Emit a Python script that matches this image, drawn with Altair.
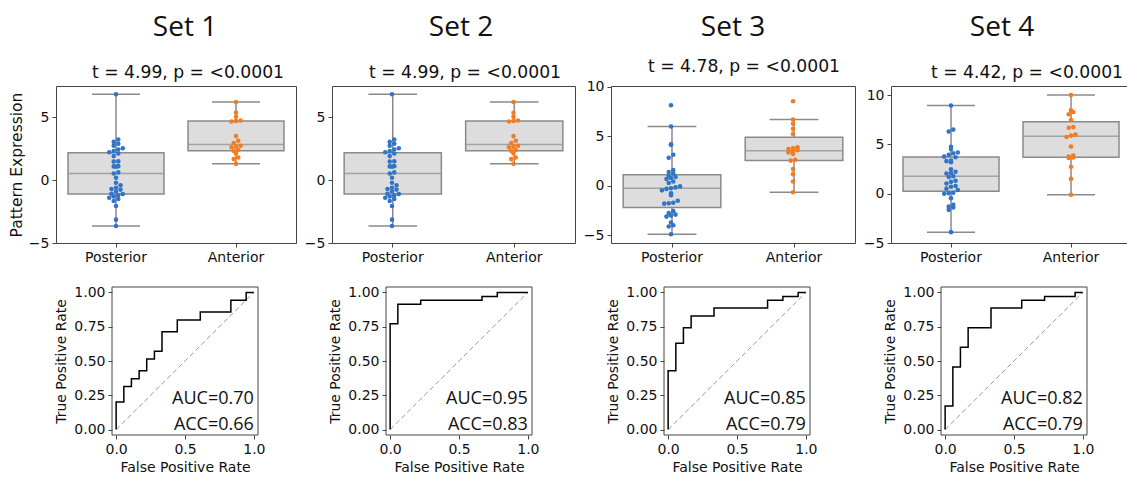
import altair as alt
import pandas as pd

# ---------------- data ----------------
cats = ["Posterior", "Anterior"]
set_names = ["Set 1", "Set 2", "Set 3", "Set 4"]
t_labels = ["t = 4.99, p = <0.0001", "t = 4.99, p = <0.0001",
            "t = 4.78, p = <0.0001", "t = 4.42, p = <0.0001"]

post_1 = [-3.64, -3.14, -2.05, -1.65, -1.5, -1.4, -1.3, -1.2, -1.1, -1.08,
          -0.9, -0.75, -0.7, -0.6, -0.4, -0.2, 0.2, 0.53, 0.62, 1.08, 1.1,
          1.12, 1.48, 1.5, 1.92, 2.13, 2.23, 2.32, 2.45, 2.55, 2.74, 2.9,
          3.05, 3.24, 6.84]
ant_1 = [1.3, 1.68, 1.81, 2.13, 2.32, 2.4, 2.62, 2.66, 2.74, 2.96, 3.14,
         3.51, 4.68, 4.72, 4.75, 5.05, 5.37, 6.22]

post_2 = [-3.64, -3.14, -2.05, -1.65, -1.5, -1.4, -1.3, -1.2, -1.1, -1.08,
          -0.9, -0.75, -0.7, -0.6, -0.4, -0.2, 0.2, 0.53, 0.62, 1.08, 1.1,
          1.12, 1.48, 1.5, 1.92, 2.13, 2.23, 2.32, 2.45, 2.55, 2.74, 2.9,
          3.05, 3.24, 6.84]
ant_2 = [1.3, 1.68, 1.81, 2.13, 2.32, 2.4, 2.62, 2.66, 2.74, 2.96, 3.14,
         3.51, 4.68, 4.72, 4.75, 5.05, 5.37, 6.22]

post_3 = [-4.89, -4.1, -3.98, -3.7, -3.1, -3.0, -2.9, -2.75, -2.55, -1.79,
          -1.75, -1.7, -1.5, -0.95, -0.75, -0.45, -0.3, -0.24, -0.15, -0.05,
          0.3, 0.45, 0.7, 0.8, 0.9, 1.0, 1.24, 1.4, 1.6, 2.85, 3.15, 4.15,
          4.2, 6.0, 8.15]
ant_3 = [-0.64, 0.44, 1.19, 1.7, 2.56, 2.64, 3.22, 3.39, 3.5, 3.62, 3.73,
         3.8, 3.9, 5.26, 5.77, 6.28, 6.72, 8.55]

post_4 = [-3.9, -1.64, -1.4, -1.3, -1.13, -0.45, 0.0, 0.05, 0.1, 0.38, 0.51,
          0.7, 0.78, 1.03, 1.2, 1.3, 1.7, 1.78, 2.05, 2.1, 2.23, 2.47, 3.2,
          3.3, 3.35, 3.7, 3.76, 3.94, 4.1, 4.18, 4.52, 4.76, 6.3, 6.5, 8.94]
ant_4 = [-0.1, 1.5, 2.74, 3.62, 3.68, 3.76, 3.87, 4.79, 5.75, 5.89, 5.99,
         6.68, 6.75, 7.47, 8.05, 8.29, 8.46, 10.0]

posteriors = [post_1, post_2, post_3, post_4]
anteriors = [ant_1, ant_2, ant_3, ant_4]

y_domains = [[-5, 7.5], [-5, 7.5], [-5.77, 10.1], [-5, 10.92]]
y_ticks = [[-5, 0, 5], [-5, 0, 5], [-5, 0, 5, 10], [-5, 0, 5, 10]]

roc_fpr_1 = [0, 0, 0.056, 0.111, 0.167, 0.222, 0.278, 0.333, 0.444, 0.611, 0.833, 0.944, 1.0]
roc_tpr_1 = [0, 0.2, 0.314, 0.371, 0.429, 0.514, 0.571, 0.714, 0.8, 0.857, 0.943, 1.0, 1.0]
roc_fpr_2 = [0, 0, 0.056, 0.222, 0.667, 0.778, 1.0]
roc_tpr_2 = [0, 0.771, 0.914, 0.943, 0.971, 1.0, 1.0]
roc_fpr_3 = [0, 0, 0.056, 0.111, 0.167, 0.333, 0.722, 0.833, 0.944, 1.0]
roc_tpr_3 = [0, 0.429, 0.629, 0.743, 0.829, 0.886, 0.943, 0.971, 1.0, 1.0]
roc_fpr_4 = [0, 0, 0.056, 0.111, 0.167, 0.333, 0.556, 0.722, 0.944, 1.0]
roc_tpr_4 = [0, 0.171, 0.457, 0.6, 0.743, 0.886, 0.943, 0.971, 1.0, 1.0]
roc_fprs = [roc_fpr_1, roc_fpr_2, roc_fpr_3, roc_fpr_4]
roc_tprs = [roc_tpr_1, roc_tpr_2, roc_tpr_3, roc_tpr_4]

auc_labels = ["AUC=0.70", "AUC=0.95", "AUC=0.85", "AUC=0.82"]
acc_labels = ["ACC=0.66", "ACC=0.83", "ACC=0.79", "ACC=0.79"]
diag_vals = [0, 1]

# ---------------- styling / layout ----------------
BLUE = "#3274c8"
ORANGE = "#f47b20"
BOX_FILL = "#dddddd"
BOX_LINE = "#8a8a8a"
TXT = "#111111"
FRAME = "#444444"

col_widths = [240, 243, 244, 240]
top_height = 157
set_dx = [9, 7.5, 0, -9]
sub_dx = [12, 11.5, 11, 16]
roc_size = 146
roc_h = 148
roc_left = [56, 54, 53, 50]
one = pd.DataFrame({"k": [0]})
RX = [-0.03, 1.03]
RY = [-0.04, 1.04]


def title_cell(i):
    return alt.Chart(one).mark_point(opacity=0).encode(
        x=alt.value(0), y=alt.value(0)
    ).properties(
        width=col_widths[i], height=1,
        view=alt.ViewBackground(stroke="transparent"),
        title=alt.TitleParams(text=set_names[i], anchor="middle", font="Open Sans",
                              fontSize=28, fontWeight="normal", color=TXT,
                              offset=-4, dx=set_dx[i]),
    )


def top_panel(i):
    post, ant = posteriors[i], anteriors[i]
    df = pd.DataFrame({"group": [cats[0]] * len(post) + [cats[1]] * len(ant),
                       "value": post + ant})
    w = col_widths[i]
    bw = w / 2
    lo, hi = y_domains[i]
    px_per_unit = top_height / (hi - lo)
    step = 4.6 / px_per_unit
    base = alt.Chart(df)
    x = alt.X("group:N", sort=cats,
              scale=alt.Scale(domain=cats, paddingInner=0, paddingOuter=0),
              axis=alt.Axis(title=None, labelAngle=0, labelPadding=3))
    y = alt.Y("value:Q", scale=alt.Scale(domain=y_domains[i], nice=False, zero=False),
              axis=alt.Axis(values=y_ticks[i], title="Pattern Expression" if i == 0 else None,
                            titlePadding=4, titleFontSize=15.5, labelPadding=3))
    box = base.mark_boxplot(
        size=0.8 * bw, extent=1.5, outliers=False,
        box={"fill": BOX_FILL, "stroke": BOX_LINE, "strokeWidth": 1.5},
        median={"color": BOX_LINE, "thickness": 1.5},
        rule={"color": BOX_LINE, "strokeWidth": 1.5},
        ticks={"color": BOX_LINE, "size": 0.4 * bw, "thickness": 1.5},
    ).encode(x=x, y=y)
    pts = base.transform_calculate(
        b=f"floor(datum.value / {step})"
    ).transform_window(
        rank="row_number()", groupby=["group", "b"], sort=[alt.SortField("value")]
    ).transform_joinaggregate(
        n="count()", groupby=["group", "b"]
    ).transform_calculate(
        off="(datum.rank - (datum.n + 1) / 2) * 4.6"
    ).mark_circle(size=21, opacity=1).encode(
        x=x,
        xOffset=alt.XOffset("off:Q", scale=alt.Scale(domain=[-bw / 2, bw / 2], range=[0, bw])),
        y=y,
        color=alt.Color("group:N", scale=alt.Scale(domain=cats, range=[BLUE, ORANGE]), legend=None),
    )
    return alt.layer(box, pts).properties(
        width=w, height=top_height,
        title=alt.TitleParams(
            text=t_labels[i], anchor="middle", font="DejaVu Sans", fontSize=17.2,
            fontWeight="normal", color=TXT, offset=5, dx=sub_dx[i]),
    )


def roc_panel(i):
    df = pd.DataFrame({"fpr": roc_fprs[i], "tpr": roc_tprs[i],
                       "i": list(range(len(roc_fprs[i])))})
    L = roc_left[i]
    xs = alt.Scale(domain=RX, range=[L, L + roc_size], nice=False, zero=False)
    ys = alt.Scale(domain=RY, nice=False, zero=False)
    xax = alt.Axis(values=[0, 0.5, 1], format=".1f", title="False Positive Rate",
                   labelPadding=3, titlePadding=4, labelOverlap=False)
    yax = alt.Axis(values=[0, 0.25, 0.5, 0.75, 1], format=".2f", title="True Positive Rate",
                   titlePadding=5, labelPadding=3, labelOverlap=False, offset=-L)
    frame = alt.Chart(one).mark_rect(filled=False, stroke=FRAME, strokeWidth=1).encode(
        x=alt.X(datum=RX[0], scale=xs, axis=xax), x2=alt.datum(RX[1]),
        y=alt.Y(datum=RY[0], scale=ys, axis=yax), y2=alt.datum(RY[1]))
    diag = alt.Chart(pd.DataFrame({"d": diag_vals})).mark_line(
        color="#999999", strokeDash=[5, 3], strokeWidth=1
    ).encode(x=alt.X("d:Q", scale=xs, axis=xax), y=alt.Y("d:Q", scale=ys, axis=yax))
    line = alt.Chart(df).mark_line(interpolate="step-after", color="black", strokeWidth=1.5).encode(
        x=alt.X("fpr:Q", scale=xs, axis=xax), y=alt.Y("tpr:Q", scale=ys, axis=yax), order="i:Q")
    t1 = alt.Chart(one).mark_text(align="right", baseline="alphabetic", font="Open Sans",
                                  fontSize=18, color=TXT).encode(
        x=alt.X(datum=1.0, scale=xs, axis=xax), y=alt.Y(datum=0.185, scale=ys, axis=yax),
        text=alt.value(auc_labels[i]))
    t2 = alt.Chart(one).mark_text(align="right", baseline="alphabetic", font="Open Sans",
                                  fontSize=18, color=TXT).encode(
        x=alt.X(datum=1.0, scale=xs, axis=xax), y=alt.Y(datum=0.0, scale=ys, axis=yax),
        text=alt.value(acc_labels[i]))
    return alt.layer(diag, line, frame, t1, t2).properties(
        width=col_widths[i], height=roc_h,
        view=alt.ViewBackground(stroke="transparent"))


cells = [title_cell(i) for i in range(4)] + [top_panel(i) for i in range(4)] + \
        [roc_panel(i) for i in range(4)]

chart = alt.concat(
    *cells, columns=4, spacing={"row": 44, "column": 36},
    bounds="flush", align="each",
).properties(
    padding={"left": 8, "top": 13, "right": -5, "bottom": 0},
    background="white",
).configure_view(
    stroke=FRAME, strokeWidth=1
).configure_axis(
    grid=False, domain=False, tickColor=FRAME, tickSize=4, tickWidth=1,
    labelFont="DejaVu Sans", labelFontSize=14, labelColor=TXT,
    titleFont="DejaVu Sans", titleFontSize=14, titleFontWeight="normal", titleColor=TXT,
)

chart.save("out.html", embed_options={"renderer": "svg", "actions": False})
